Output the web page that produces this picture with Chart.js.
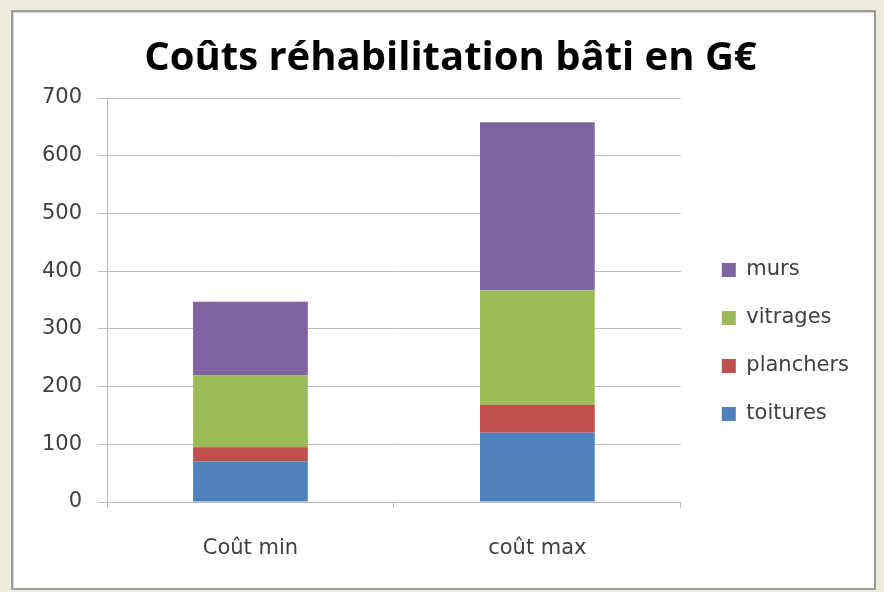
<!DOCTYPE html>
<html>
<head>
<meta charset="utf-8">
<script src="https://cdn.jsdelivr.net/npm/chart.js@4/dist/chart.umd.min.js"></script>
<style>
  html, body { margin: 0; padding: 0; background: #eeebdf; }
  #frame { position: absolute; left: 11px; top: 10px; width: 861px; height: 576px; background: #fff; border: 2px solid #9c9c9c; box-shadow: inset 1px 1px 0 #d8d8d8; }
  #wrap { position: absolute; left: 0; top: 0; width: 861px; height: 576px; }
</style>
</head>
<body>
<div id="frame"><div id="wrap"><canvas id="costChart"></canvas></div></div>
<script>
const categories = ["Coût min", "coût max"];
const toitures = [70, 120];
const planchers = [25, 48];
const vitrages = [124, 199];
const murs = [128, 291];
const yTicks = [0, 100, 200, 300, 400, 500, 600, 700];

const COLORS = { toitures: "#4f81bd", planchers: "#c0504d", vitrages: "#9bbb59", murs: "#8064a2" };
const gridGray = "#bcbcbc";
const textFont = { family: "'DejaVu Sans', sans-serif", size: 21 };

function series(label, data, color) {
  return { label, data, backgroundColor: color, borderWidth: 0, categoryPercentage: 1, barPercentage: 0.4 };
}

new Chart(document.getElementById("costChart"), {
  type: "bar",
  data: {
    labels: categories,
    datasets: [
      series("toitures", toitures, COLORS.toitures),
      series("planchers", planchers, COLORS.planchers),
      series("vitrages", vitrages, COLORS.vitrages),
      series("murs", murs, COLORS.murs),
    ],
  },
  options: {
    responsive: true,
    maintainAspectRatio: false,
    animation: false,
    layout: { padding: { left: 29, right: 15, bottom: 2, top: 0 } },
    plugins: {
      title: {
        display: true,
        text: "Coûts réhabilitation bâti en G€",
        color: "#000",
        font: { family: "'Open Sans', sans-serif", size: 40, weight: "bold" },
        padding: { top: 23, bottom: 15 },
      },
      legend: {
        position: "right",
        reverse: true,
        maxWidth: 240,
        title: { display: true, text: " ", font: { size: 10 }, padding: { top: 38, bottom: 36 } },
        labels: { boxWidth: 14, boxHeight: 14, padding: 27, color: "#404040", font: textFont },
      },
      tooltip: { enabled: false },
    },
    scales: {
      x: {
        stacked: true,
        offset: true,
        grid: { offset: true, drawOnChartArea: false, drawTicks: true, tickLength: 6, color: gridGray },
        border: { color: gridGray },
        ticks: { padding: 28, color: "#404040", font: textFont },
        afterFit: (s) => { s.height = 84; },
      },
      y: {
        stacked: true,
        min: 0, max: 700,
        afterBuildTicks: (axis) => { axis.ticks = yTicks.map((v) => ({ value: v })); },
        grid: { color: gridGray, tickLength: 9 },
        border: { color: gridGray },
        ticks: { padding: 16, color: "#404040", font: textFont },
        afterFit: (s) => { s.width = 65; },
      },
      gap: {
        position: "right",
        grid: { display: false },
        border: { display: false },
        ticks: { display: false },
        afterFit: (s) => { s.width = 14; },
      },
    },
  },
});
</script>
</body>
</html>
